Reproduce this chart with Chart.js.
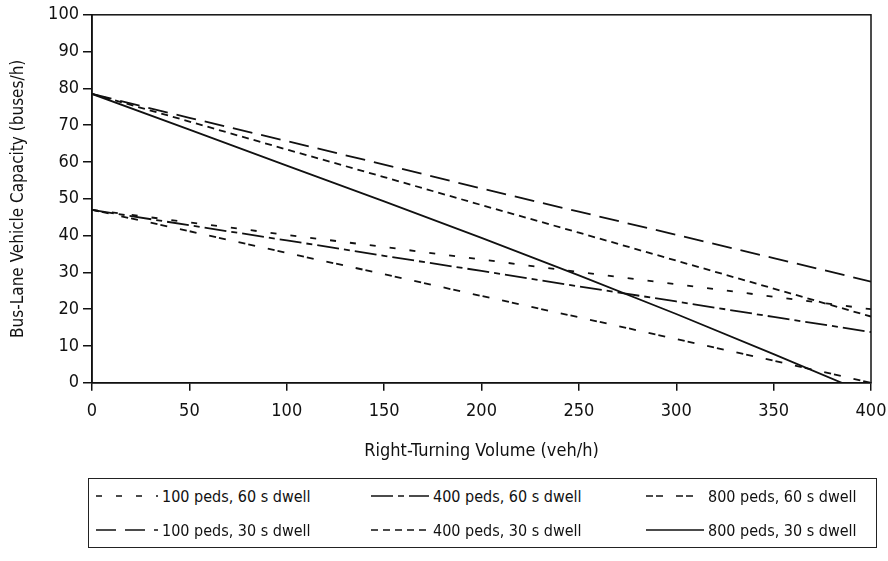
<!DOCTYPE html>
<html>
<head>
<meta charset="utf-8">
<script src="https://cdn.jsdelivr.net/npm/chart.js@4.4.1/dist/chart.umd.min.js"></script>
<style>
  body { margin: 0; background: #fff; }
  #wrap { position: relative; width: 888px; height: 561px; }
  #chartBox { position: absolute; left: 0; top: 0; width: 888px; height: 462px; }
  #legendBox {
    position: absolute; left: 88px; top: 478px; width: 789px; height: 70px;
    border: 1.5px solid #222; box-sizing: border-box;
    display: grid; grid-template-columns: 275px 275px 236px; grid-template-rows: 34px 34px;
    font-family: 'Liberation Sans Narrow', 'DejaVu Sans Condensed', 'Arial Narrow', sans-serif;
    font-size: 16px; color: #111;
  }
  .item { display: flex; align-items: center; padding-left: 7px; }
  .item canvas { margin-right: 4px; }
</style>
</head>
<body>
<div id="wrap">
  <div id="chartBox"><canvas id="capacityChart"></canvas></div>
  <div id="legendBox"></div>
</div>
<script>
// data
const volumes = [0, 50, 100, 150, 200, 250, 300, 350, 400];
const volumesSolid = [0, 50, 100, 150, 200, 250, 300, 350, 385, 400];

const peds100dwell60 = [47, 43.6, 40.2, 36.9, 33.5, 30.1, 26.8, 23.4, 20];
const peds400dwell60 = [47, 42.8, 38.7, 34.5, 30.4, 26.2, 22.1, 17.9, 13.8];
const peds800dwell60 = [47, 41.2, 35.3, 29.5, 23.6, 17.8, 11.9, 6, 0];
const peds100dwell30 = [78.5, 72, 65.7, 59.3, 52.8, 46.5, 40.2, 33.9, 27.5];
const peds400dwell30 = [78.5, 71, 63.4, 55.9, 48.3, 40.8, 33.2, 25.6, 18];
const peds800dwell30 = [78.5, 68.8, 59, 49.3, 39.4, 29.2, 18.7, 7.8, 0, 0];

const seriesLabels = [
    '100 peds, 60 s dwell', '400 peds, 60 s dwell', '800 peds, 60 s dwell',
    '100 peds, 30 s dwell', '400 peds, 30 s dwell', '800 peds, 30 s dwell'
];

const fontFamily = "'Liberation Sans Narrow', 'DejaVu Sans Condensed', 'Arial Narrow', sans-serif";
const ink = '#111';

function toPoints(xs, ys) {
    return ys.map((y, i) => ({ x: xs[i], y: y }));
}

const dashes = [[6, 14], [22, 5, 6, 5], [7, 3, 7, 13], [20, 9], [7, 5], []];
const seriesValues = [peds100dwell60, peds400dwell60, peds800dwell60, peds100dwell30, peds400dwell30, peds800dwell30];

const datasets = seriesValues.map((vals, i) => ({
    label: seriesLabels[i],
    data: toPoints(i === 5 ? volumesSolid : volumes, vals),
    borderColor: ink,
    borderWidth: 1.8,
    borderDash: dashes[i],
    pointRadius: 0,
    tension: 0,
    fill: false
}));

// draws the frame around the plot area
const frame = {
    id: 'frame',
    afterDatasetsDraw(chart) {
        const a = chart.chartArea;
        const ctx = chart.ctx;
        ctx.save();
        ctx.strokeStyle = ink;
        ctx.lineWidth = 1.5;
        ctx.strokeRect(a.left, a.top, a.right - a.left, a.bottom - a.top);
        ctx.restore();
    }
};

const ctx = document.getElementById('capacityChart').getContext('2d');
const capacityChart = new Chart(ctx, {
    type: 'line',
    data: { datasets: datasets },
    options: {
        responsive: true,
        maintainAspectRatio: false,
        animation: false,
        layout: { padding: { left: 6, right: 17, top: 5, bottom: 0 } },
        plugins: { legend: { display: false }, tooltip: { enabled: false } },
        scales: {
            x: {
                type: 'linear',
                min: 0,
                max: 400,
                ticks: { stepSize: 50, color: ink, font: { family: fontFamily, size: 18 }, padding: 10 },
                grid: { drawOnChartArea: false, tickLength: 8, color: ink, lineWidth: 1.5 },
                border: { color: ink, width: 1.5 },
                title: { display: true, text: 'Right-Turning Volume (veh/h)', color: ink, font: { family: fontFamily, size: 18 }, padding: { top: 8, bottom: 0 } },
                afterFit(scale) { scale.paddingRight = 0; scale.paddingLeft = 0; }
            },
            y: {
                min: 0,
                max: 100,
                ticks: { stepSize: 10, color: ink, font: { family: fontFamily, size: 18 }, padding: 4 },
                grid: { drawOnChartArea: false, tickLength: 9, color: ink, lineWidth: 1.5 },
                border: { color: ink, width: 1.5 },
                title: { display: true, text: 'Bus-Lane Vehicle Capacity (buses/h)', color: ink, font: { family: fontFamily, size: 17 }, padding: 2 },
                afterFit(scale) { scale.width = 86; }
            }
        }
    },
    plugins: [frame]
});

// legend: line sample + label in a boxed 3x2 grid
const legendBox = document.getElementById('legendBox');
const sampleWidths = [62, 58, 58, 62, 58, 58];
datasets.forEach((ds, i) => {
    const item = document.createElement('div');
    item.className = 'item';
    const c = document.createElement('canvas');
    c.width = sampleWidths[i];
    c.height = 12;
    const g = c.getContext('2d');
    g.strokeStyle = ink;
    g.lineWidth = 1.6;
    g.setLineDash(ds.borderDash);
    g.beginPath();
    g.moveTo(0, 6);
    g.lineTo(c.width, 6);
    g.stroke();
    const span = document.createElement('span');
    span.textContent = ds.label;
    item.appendChild(c);
    item.appendChild(span);
    legendBox.appendChild(item);
});
</script>
</body>
</html>
